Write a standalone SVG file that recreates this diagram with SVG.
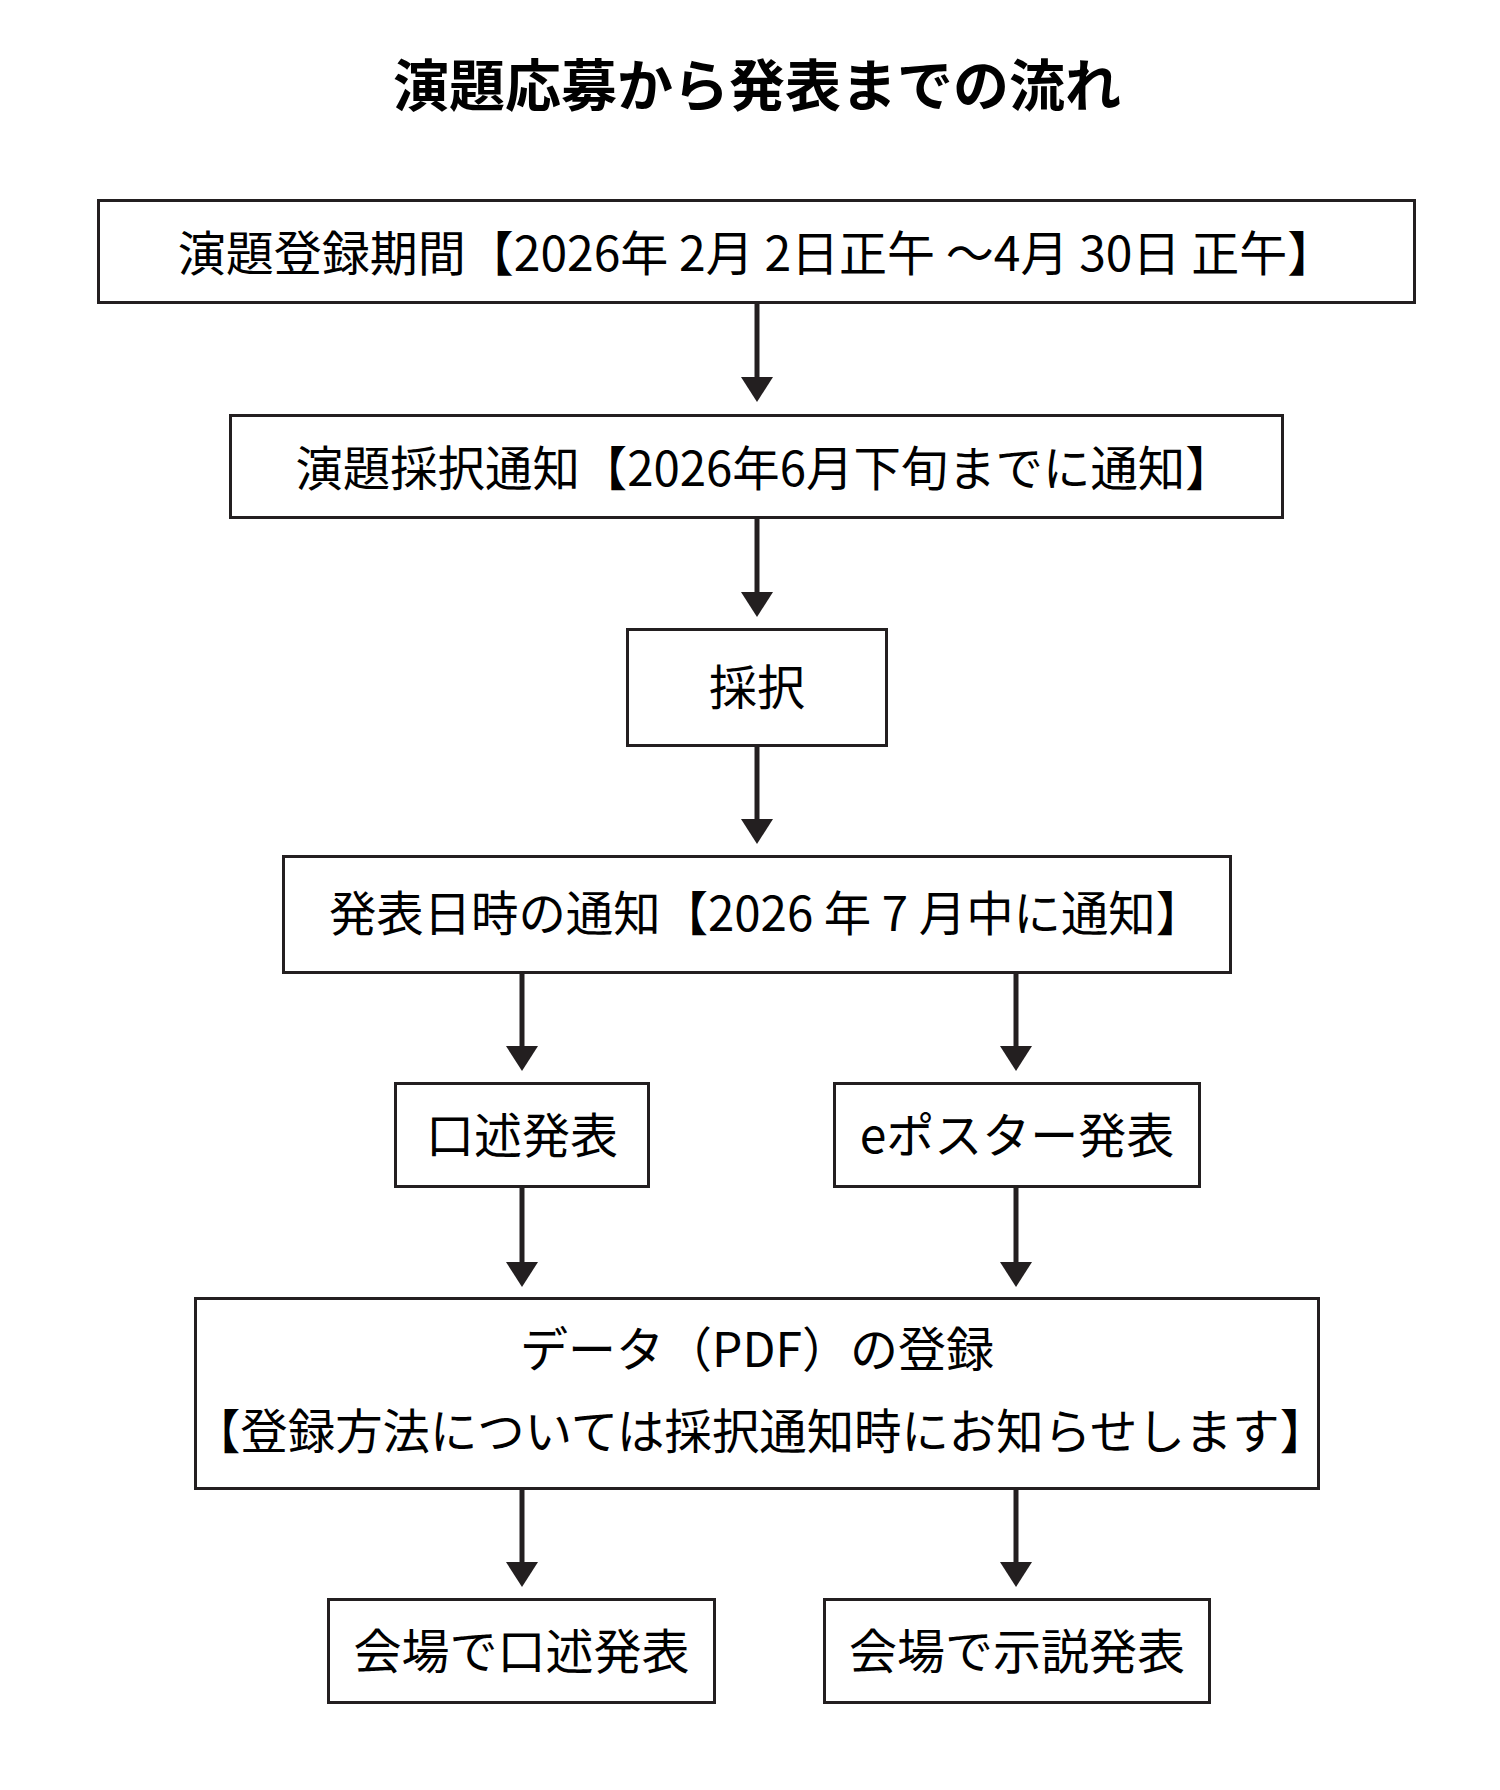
<svg xmlns="http://www.w3.org/2000/svg" width="1500" height="1790" viewBox="0 0 1500 1790">
<style>
.box{fill:#fff;stroke:#231f20;stroke-width:3}
.t{font-family:"Noto Sans CJK JP","Noto Sans",sans-serif;font-size:48px;fill:#000;text-anchor:middle}
.s{font-size:47.4px}
.title{font-family:"Noto Sans CJK JP","Noto Sans",sans-serif;font-size:56px;font-weight:bold;fill:#000;text-anchor:middle}
.arr{stroke:#231f20;stroke-width:5;fill:none;marker-end:url(#ah)}
</style>
<defs>
<marker id="ah" markerUnits="userSpaceOnUse" markerWidth="26" markerHeight="32" refX="1" refY="16" orient="auto">
<path d="M0,0 L25,16 L0,32 z" fill="#231f20"/>
</marker>
</defs>
<rect width="1500" height="1790" fill="#fff"/>
<text id="title" class="title" x="757" y="106">演題応募から発表までの流れ</text>
<g id="connectors">
<line class="arr" x1="757" y1="304" x2="757" y2="378"/>
<line class="arr" x1="757" y1="519" x2="757" y2="593"/>
<line class="arr" x1="757" y1="747" x2="757" y2="820"/>
<line class="arr" x1="522" y1="974" x2="522" y2="1047"/>
<line class="arr" x1="1016" y1="974" x2="1016" y2="1047"/>
<line class="arr" x1="522" y1="1188" x2="522" y2="1263"/>
<line class="arr" x1="1016" y1="1188" x2="1016" y2="1263"/>
<line class="arr" x1="522" y1="1490" x2="522" y2="1563"/>
<line class="arr" x1="1016" y1="1490" x2="1016" y2="1563"/>
</g>
<g id="n1"><rect class="box" x="98.5" y="200.5" width="1316" height="102"/><text class="t" x="756.5" y="271">演題登録期間【2026年 2月 2日正午 ～4月 30日 正午】</text></g>
<g id="n2"><rect class="box" x="230.5" y="415.5" width="1052" height="102"/><text class="t s" x="764" y="486">演題採択通知【2026年6月下旬までに通知】</text></g>
<g id="n3"><rect class="box" x="627.5" y="629.5" width="259" height="116"/><text class="t" x="757" y="705">採択</text></g>
<g id="n4"><rect class="box" x="283.5" y="856.5" width="947" height="116"/><text class="t s" x="766" y="931">発表日時の通知【2026 年 7 月中に通知】</text></g>
<g id="n5"><rect class="box" x="395.5" y="1083.5" width="253" height="103"/><text class="t" x="522" y="1153">口述発表</text></g>
<g id="n6"><rect class="box" x="834.5" y="1083.5" width="365" height="103"/><text class="t" x="1017" y="1153">eポスター発表</text></g>
<g id="n7"><rect class="box" x="195.5" y="1298.5" width="1123" height="190"/><text class="t" x="757" y="1367">データ（PDF）の登録</text><text class="t s" x="760" y="1449">【登録方法については採択通知時にお知らせします】</text></g>
<g id="n8"><rect class="box" x="328.5" y="1599.5" width="386" height="103"/><text class="t" x="521.5" y="1669">会場で口述発表</text></g>
<g id="n9"><rect class="box" x="824.5" y="1599.5" width="385" height="103"/><text class="t" x="1017" y="1669">会場で示説発表</text></g>
</svg>
